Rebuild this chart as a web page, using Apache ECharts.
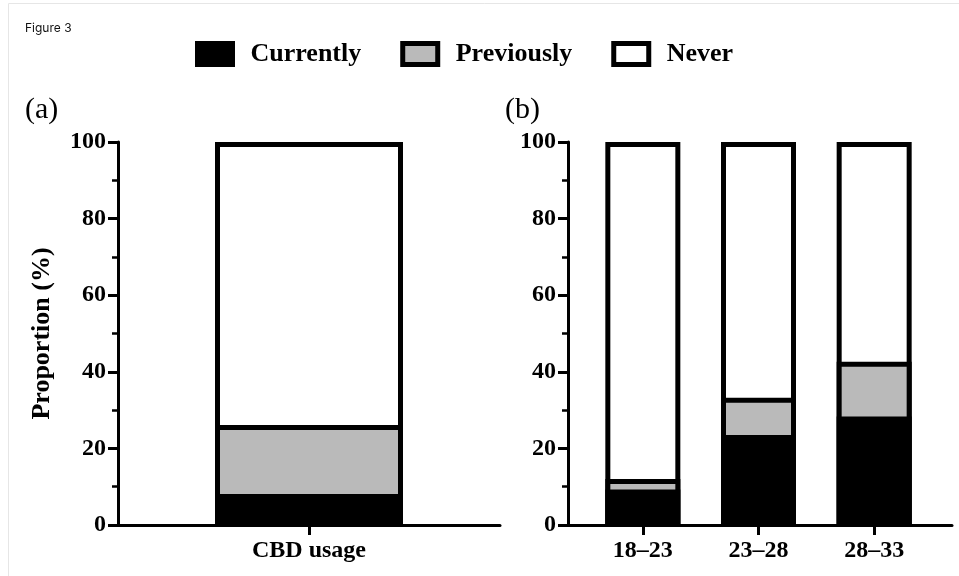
<!DOCTYPE html>
<html>
<head>
<meta charset="utf-8">
<script src="https://cdn.jsdelivr.net/npm/echarts@6/dist/echarts.min.js"></script>
<style>
html,body{margin:0;padding:0;background:#fff;}
#chart{width:959px;height:576px;}
</style>
</head>
<body>
<div id="chart"></div>
<script>
// ---- data (percent of respondents per segment) ----
var seriesNames = ['Currently', 'Previously', 'Never'];
var categoriesA = ['CBD usage'];
var currentlyA = [8.1];
var previouslyA = [18.0];
var neverA = [73.9];
var categoriesB = ['18\u201323', '23\u201328', '28\u201333'];
var currentlyB = [9.3, 23.5, 28.3];
var previouslyB = [2.7, 9.7, 14.3];
var neverB = [88.0, 66.8, 57.4];
var yTicks = [0, 20, 40, 60, 80, 100];

// ---- styles ----
var serif = '"Liberation Serif","Times New Roman",serif';
var colors = {Currently: '#000000', Previously: '#bababa', Never: '#ffffff'};
var BW = 5;

// cumulative tops (each segment drawn as an overlapping bar from 0 to its cumulative top)
function cum(arrays) {
  var out = [];
  for (var k = 0; k < arrays.length; k++) {
    out.push(arrays[0].map(function (_, i) {
      var s = 0;
      for (var j = 0; j <= k; j++) s += arrays[j][i];
      return +s.toFixed(2);
    }));
  }
  return out;
}
var cumA = cum([currentlyA, previouslyA, neverA]);
var cumB = cum([currentlyB, previouslyB, neverB]);

var chart = echarts.init(document.getElementById('chart'), null, {renderer: 'canvas'});

function yAxisCfg(gridIndex, showName) {
  return {
    type: 'value', gridIndex: gridIndex, min: yTicks[0], max: yTicks[yTicks.length - 1], interval: 20,
    name: showName ? 'Proportion (%)' : '',
    nameLocation: 'middle', nameGap: 63,
    nameTextStyle: {fontFamily: serif, fontWeight: 'bold', fontSize: 26, color: '#000'},
    axisLine: {show: true, lineStyle: {color: '#000', width: 3}},
    axisTick: {show: true, length: 10, lineStyle: {color: '#000', width: 3}},
    minorTick: {show: true, splitNumber: 2, length: 6, lineStyle: {color: '#000', width: 2.5}},
    splitLine: {show: false},
    axisLabel: {show: true, margin: 12, fontFamily: serif, fontWeight: 'bold', fontSize: 24, color: '#000'}
  };
}
function hiddenY(gridIndex) {
  return {type: 'value', gridIndex: gridIndex, min: 0, max: 100, show: false};
}
function catX(gridIndex, cats, showLine) {
  return {
    type: 'category', gridIndex: gridIndex, data: cats,
    axisLine: {show: showLine, lineStyle: {color: '#000', width: 3}},
    axisTick: {show: true, alignWithLabel: true, length: 10, lineStyle: {color: '#000', width: 3}},
    axisLabel: {margin: 14, fontFamily: serif, fontWeight: 'bold', fontSize: 24, color: '#000'},
    splitLine: {show: false}
  };
}

function makeSeries(name, data, xi, yi, barWidth) {
  return {
    name: name, type: 'bar', xAxisIndex: xi, yAxisIndex: yi,
    data: data, barWidth: barWidth, barGap: '-100%',
    itemStyle: {color: colors[name], borderColor: '#000', borderWidth: BW},
    emphasis: {disabled: true}
  };
}

var option = {
  animation: false,
  backgroundColor: '#fff',
  title: [
    {text: 'Figure 3', left: 20, top: 17, textStyle: {fontFamily: 'Inter, "Open Sans", sans-serif', fontSize: 12, fontWeight: 'normal', color: '#111'}},
    {text: '(a)', left: 20, top: 90, textStyle: {fontFamily: serif, fontSize: 30, fontWeight: 'normal', color: '#000'}},
    {text: '(b)', left: 500, top: 90, textStyle: {fontFamily: serif, fontSize: 30, fontWeight: 'normal', color: '#000'}}
  ],
  legend: {
    data: seriesNames, left: 195, top: 41, padding: 0,
    icon: 'rect',
    itemWidth: 35, itemHeight: 21, itemGap: 39,
    selectedMode: false,
    itemStyle: {borderWidth: 5, borderColor: '#000'},
    textStyle: {fontFamily: serif, fontWeight: 'bold', fontSize: 26, color: '#000', padding: [0, 0, 0, 13]}
  },
  graphic: [
    {type: 'rect', shape: {x: 8.5, y: 3.5, width: 1000, height: 1000}, style: {fill: 'none', stroke: '#e6e6e6', lineWidth: 1}, silent: true}
  ],
  grid: [
    {left: 118, top: 142, width: 382, height: 383},
    {left: 568, top: 142, width: 384, height: 383},
    {left: 585, top: 142, width: 347, height: 383}
  ],
  xAxis: [
    catX(0, categoriesA, true),
    {type: 'value', gridIndex: 1, min: 0, max: 1, axisLine: {show: true, onZero: false, lineStyle: {color: '#000', width: 3}}, axisTick: {show: false}, axisLabel: {show: false}, splitLine: {show: false}},
    catX(2, categoriesB, false)
  ],
  yAxis: [
    yAxisCfg(0, true),
    yAxisCfg(1, false),
    hiddenY(2)
  ],
  series: [
    makeSeries('Never', cumA[2], 0, 0, 188),
    makeSeries('Previously', cumA[1], 0, 0, 188),
    makeSeries('Currently', cumA[0], 0, 0, 188),
    makeSeries('Never', cumB[2], 2, 2, 75),
    makeSeries('Previously', cumB[1], 2, 2, 75),
    makeSeries('Currently', cumB[0], 2, 2, 75)
  ]
};
chart.setOption(option);
</script>
</body>
</html>
